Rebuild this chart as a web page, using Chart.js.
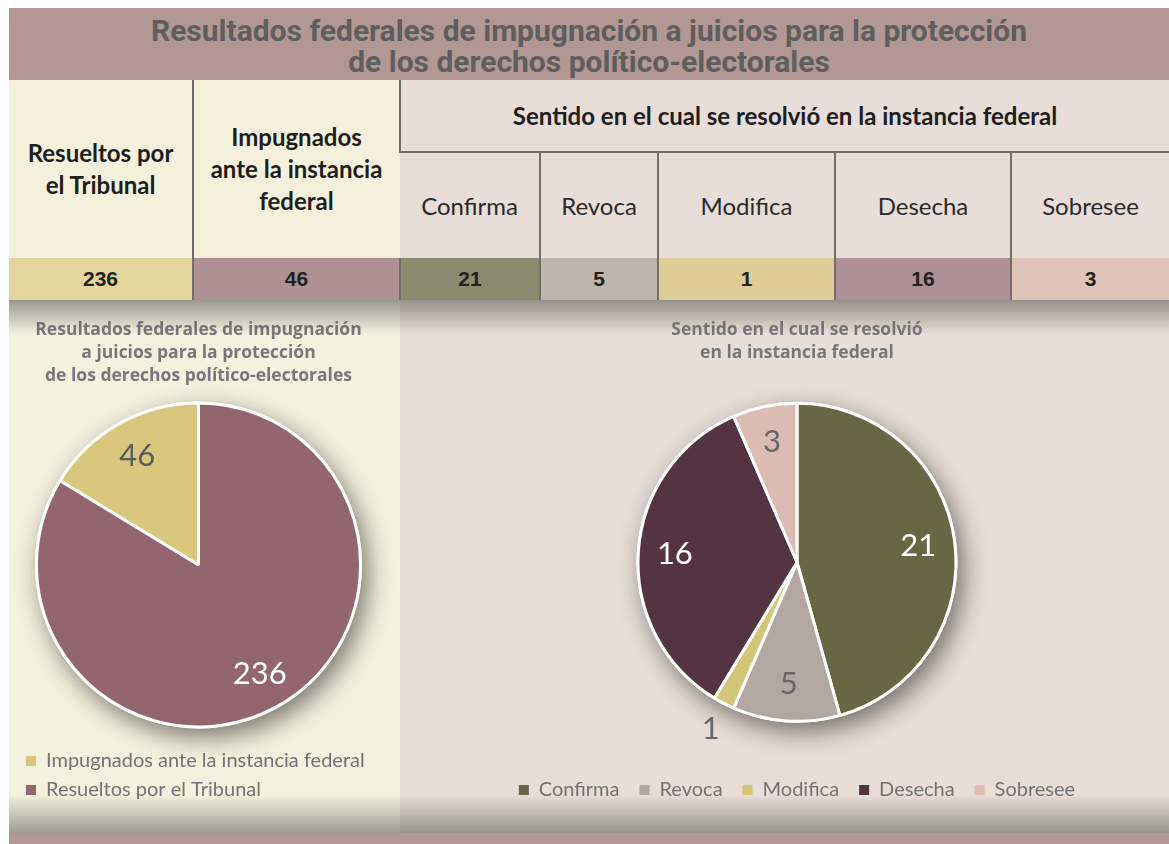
<!DOCTYPE html>
<html lang="es">
<head>
  <meta charset="UTF-8">
  <title>Resultados federales de impugnación</title>
  <script src="https://cdn.jsdelivr.net/npm/chart.js"></script>
  <style>
    body {
      margin: 0;
      width: 1169px;
      height: 844px;
      overflow: hidden;
      background: #fff;
      position: relative;
    }

    #banner {
      position: absolute;
      left: 9px;
      top: 8px;
      width: 1160px;
      height: 72px;
      box-sizing: border-box;
      padding-top: 7px;
      background: #b39793;
      color: #5e5e60;
      font: 700 30px Roboto, sans-serif;
      line-height: 31px;
      text-align: center;
    }

    #tabla {
      position: absolute;
      left: 9px;
      top: 80px;
      width: 1160px;
      border-collapse: collapse;
      table-layout: fixed;
      font-family: Lato, sans-serif;
      color: #1e1e1e;
    }

    #tabla td {
      padding: 0;
      text-align: center;
      vertical-align: middle;
    }

    #tabla .head {
      font-weight: 700;
      font-size: 24px;
      line-height: 32px;
    }

    #tabla .sub {
      font-size: 24px;
      color: #2a2a2a;
      border-top: 2px solid #706f68;
    }

    #tabla .val {
      font: 700 21px "Liberation Sans", Arial, sans-serif;
      color: #222;
    }

    .line { border-left: 2px solid #706f68; }

    .panel {
      position: absolute;
      top: 300px;
      height: 533px;
    }

    .chart-box {
      position: absolute;
      top: 308px;
      height: 502px;
    }

    #topShade {
      position: absolute;
      left: 9px;
      top: 300px;
      width: 1160px;
      height: 34px;
      background: linear-gradient(rgba(95, 95, 85, 0.6), rgba(95, 95, 85, 0));
      pointer-events: none;
    }

    #bottomShade {
      position: absolute;
      left: 9px;
      top: 795px;
      width: 1160px;
      height: 38px;
      background: linear-gradient(rgba(110, 110, 100, 0), rgba(110, 110, 100, 0.65));
      pointer-events: none;
    }

    #footBar {
      position: absolute;
      left: 9px;
      top: 833px;
      width: 1160px;
      height: 11px;
      background: #b39793;
    }
  </style>
</head>
<body>

  <div id="banner">Resultados federales de impugnación a juicios para la protección<br>de los derechos político-electorales</div>

  <table id="tabla">
    <colgroup id="cols"></colgroup>
    <tr style="height:72px">
      <td rowspan="2" class="head" id="hResueltos" style="background:#f4f0dc"></td>
      <td rowspan="2" class="head line" id="hImpugnados" style="background:#f4f0dc"></td>
      <td colspan="5" class="head line" id="hSentido" style="background:#e8ddd8"></td>
    </tr>
    <tr style="height:106px" id="subRow"></tr>
    <tr style="height:42px" id="valRow"></tr>
  </table>

  <div class="panel" style="left:9px; width:391px; background:#f4f1de"></div>
  <div class="panel" style="left:400px; width:769px; background:#e8ddd7"></div>

  <div class="chart-box" style="left:9px; width:391px">
    <canvas id="resumenChart"></canvas>
  </div>
  <div class="chart-box" style="left:400px; width:769px">
    <canvas id="sentidoChart"></canvas>
  </div>

  <div id="topShade"></div>
  <div id="bottomShade"></div>
  <div id="footBar"></div>

  <script>
    // datos
    const resumenLabels = ['Impugnados ante la instancia federal', 'Resueltos por el Tribunal'];
    const resumenValues = [46, 236];
    const sentidoLabels = ['Confirma', 'Revoca', 'Modifica', 'Desecha', 'Sobresee'];
    const sentidoValues = [21, 5, 1, 16, 3];

    const resumenTitle = ['Resultados federales de impugnación', 'a juicios para la protección', 'de los derechos político-electorales'];
    const sentidoTitle = ['Sentido en el cual se resolvió', 'en la instancia federal'];
    const headResueltos = ['Resueltos por', 'el Tribunal'];
    const headImpugnados = ['Impugnados', 'ante la instancia', 'federal'];
    const headSentido = 'Sentido en el cual se resolvió en la instancia federal';

    // estilos
    const resumenColors = ['#d8c77d', '#93666f'];
    const resumenTextColors = ['#5b5b60', '#ffffff'];
    const sentidoColors = ['#696743', '#b3a8a1', '#d4c678', '#553441', '#dcbcb2'];
    const sentidoTextColors = ['#ffffff', '#66666b', '#66666b', '#ffffff', '#66666b'];
    const colWidths = [184, 207, 140, 118, 177, 176, 158];
    const valCellColors = ['#e2d69d', '#b09193', '#8b8a6f', '#c0b5ad', '#decd94', '#ae9194', '#e0c4ba'];

    // tabla
    document.getElementById('cols').innerHTML = colWidths.map(w => '<col style="width:' + w + 'px">').join('');
    document.getElementById('hResueltos').innerHTML = headResueltos.join('<br>');
    document.getElementById('hImpugnados').innerHTML = headImpugnados.join('<br>');
    document.getElementById('hSentido').textContent = headSentido;

    const subRow = document.getElementById('subRow');
    sentidoLabels.forEach((lab, i) => {
      const td = document.createElement('td');
      td.className = 'sub' + (i > 0 ? ' line' : '');
      td.style.background = '#e8ddd8';
      td.textContent = lab;
      subRow.appendChild(td);
    });

    const valRow = document.getElementById('valRow');
    const tableValues = [resumenValues[1], resumenValues[0]].concat(sentidoValues);
    tableValues.forEach((v, i) => {
      const td = document.createElement('td');
      td.className = 'val' + (i > 0 ? ' line' : '');
      td.style.background = valCellColors[i];
      td.textContent = v;
      valRow.appendChild(td);
    });

    // sombra bajo el pastel
    const pieShadow = {
      id: 'pieShadow',
      beforeDatasetsDraw(chart) {
        const arc = chart.getDatasetMeta(0).data[0];
        if (!arc) return;
        const p = arc.getProps(['x', 'y', 'outerRadius'], true);
        const ctx = chart.ctx;
        ctx.save();
        ctx.shadowColor = 'rgba(45, 40, 35, 0.6)';
        ctx.shadowBlur = 24;
        ctx.shadowOffsetX = 6;
        ctx.shadowOffsetY = 9;
        ctx.beginPath();
        ctx.arc(p.x, p.y, p.outerRadius + 1.5, 0, Math.PI * 2);
        ctx.fillStyle = '#ffffff';
        ctx.fill();
        ctx.restore();
      }
    };

    // etiquetas de valor
    const sliceLabels = {
      id: 'sliceLabels',
      afterDatasetsDraw(chart, args, opts) {
        const ctx = chart.ctx;
        const meta = chart.getDatasetMeta(0);
        const data = chart.data.datasets[0].data;
        const total = data.reduce((a, b) => a + b, 0);
        ctx.save();
        ctx.font = '31px Lato, sans-serif';
        ctx.textAlign = 'center';
        ctx.textBaseline = 'middle';
        meta.data.forEach((arc, i) => {
          const p = arc.getProps(['x', 'y', 'startAngle', 'endAngle', 'outerRadius'], true);
          const mid = (p.startAngle + p.endAngle) / 2;
          const r = p.outerRadius * (data[i] / total < 0.05 ? 1.18 : 0.77);
          ctx.fillStyle = opts.colors[i];
          ctx.fillText(String(data[i]), p.x + Math.cos(mid) * r, p.y + Math.sin(mid) * r);
        });
        ctx.restore();
      }
    };

    // cuadros de leyenda sin borde
    const plainLegendLabels = chart =>
      Chart.overrides.pie.plugins.legend.labels.generateLabels(chart).map(l => Object.assign(l, { lineWidth: 0, strokeStyle: 'rgba(0,0,0,0)' }));

    const titleFont = { family: 'Open Sans', size: 17.5, weight: '700', lineHeight: 1.33 };
    const legendFont = { family: 'Lato', size: 20 };
    const resumenTotal = resumenValues.reduce((a, b) => a + b, 0);

    new Chart(document.getElementById('resumenChart'), {
      type: 'pie',
      data: {
        labels: resumenLabels,
        datasets: [{
          data: resumenValues,
          backgroundColor: resumenColors,
          borderColor: '#ffffff',
          borderWidth: 3,
          radius: 162
        }]
      },
      options: {
        responsive: true,
        maintainAspectRatio: false,
        animation: false,
        rotation: -360 * resumenValues[0] / resumenTotal,
        layout: { padding: { left: 8, right: 20 } },
        plugins: {
          title: {
            display: true,
            text: resumenTitle,
            color: '#77777b',
            font: titleFont,
            padding: { top: 10, bottom: 0 }
          },
          legend: {
            position: 'bottom',
            align: 'start',
            labels: { boxWidth: 10, boxHeight: 10, padding: 9, color: '#737373', font: legendFont, generateLabels: plainLegendLabels }
          },
          tooltip: { enabled: false },
          sliceLabels: { colors: resumenTextColors }
        }
      },
      plugins: [pieShadow, sliceLabels]
    });

    new Chart(document.getElementById('sentidoChart'), {
      type: 'pie',
      data: {
        labels: sentidoLabels,
        datasets: [{
          data: sentidoValues,
          backgroundColor: sentidoColors,
          borderColor: '#ffffff',
          borderWidth: 3,
          radius: 159
        }]
      },
      options: {
        responsive: true,
        maintainAspectRatio: false,
        animation: false,
        layout: { padding: { left: 25 } },
        plugins: {
          title: {
            display: true,
            text: sentidoTitle,
            color: '#77777b',
            font: titleFont,
            padding: { top: 10, bottom: 0 }
          },
          legend: {
            position: 'bottom',
            labels: { boxWidth: 10, boxHeight: 10, padding: 20, color: '#737373', font: legendFont, generateLabels: plainLegendLabels }
          },
          tooltip: { enabled: false },
          sliceLabels: { colors: sentidoTextColors }
        }
      },
      plugins: [pieShadow, sliceLabels]
    });
  </script>
</body>
</html>
